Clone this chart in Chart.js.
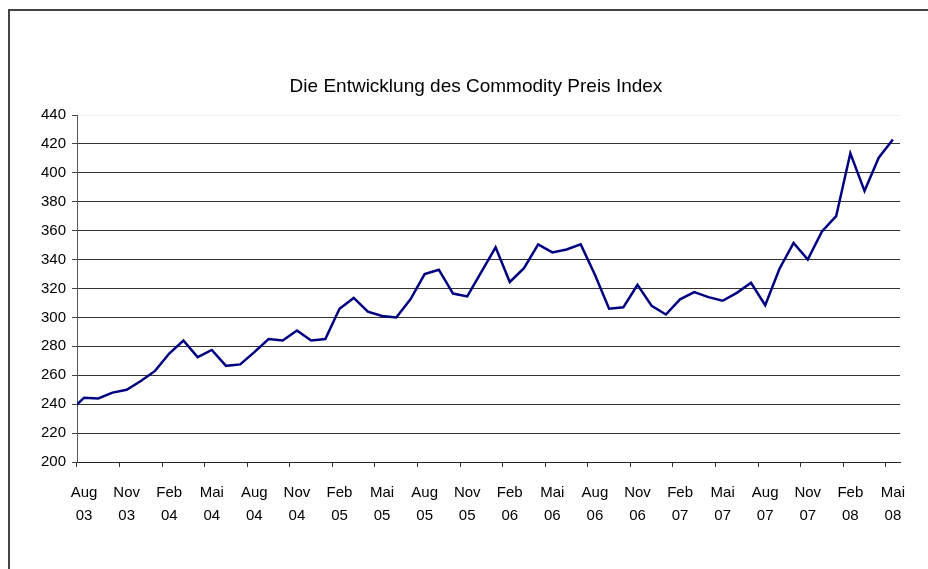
<!DOCTYPE html>
<html>
<head>
<meta charset="utf-8">
<script src="https://cdn.jsdelivr.net/npm/chart.js@4.4.1/dist/chart.umd.min.js"></script>
<style>
  html, body { margin: 0; padding: 0; background: #fff; }
  #wrap { position: relative; width: 928px; height: 569px; overflow: hidden; }
  #frame { position: absolute; left: 8px; top: 9px; width: 940px; height: 580px;
           border: 2px solid #444; pointer-events: none; }
  #title { position: absolute; left: 0; top: 75px; width: 952px; text-align: center;
           font: 19px/22px "Liberation Sans", Arial, sans-serif; color: #000; }
</style>
</head>
<body>
<div id="wrap">
  <canvas id="myChart" width="928" height="569"></canvas>
  <div id="title"></div>
  <div id="frame"></div>
</div>
<script>
// months, first one (Jul 03) lies just left of the plot and is clipped like in Excel
const months = [
  'Jul 03', 'Aug 03', 'Sep 03', 'Okt 03', 'Nov 03', 'Dez 03',
  'Jan 04', 'Feb 04', 'Mär 04', 'Apr 04', 'Mai 04', 'Jun 04', 'Jul 04', 'Aug 04', 'Sep 04', 'Okt 04', 'Nov 04', 'Dez 04',
  'Jan 05', 'Feb 05', 'Mär 05', 'Apr 05', 'Mai 05', 'Jun 05', 'Jul 05', 'Aug 05', 'Sep 05', 'Okt 05', 'Nov 05', 'Dez 05',
  'Jan 06', 'Feb 06', 'Mär 06', 'Apr 06', 'Mai 06', 'Jun 06', 'Jul 06', 'Aug 06', 'Sep 06', 'Okt 06', 'Nov 06', 'Dez 06',
  'Jan 07', 'Feb 07', 'Mär 07', 'Apr 07', 'Mai 07', 'Jun 07', 'Jul 07', 'Aug 07', 'Sep 07', 'Okt 07', 'Nov 07', 'Dez 07',
  'Jan 08', 'Feb 08', 'Mär 08', 'Apr 08', 'Mai 08'
];

const indexValues = [
  235, 244.5, 244, 248, 250, 256,
  263, 275, 284, 272.5, 277.5, 266.5, 267.5, 276, 285, 284, 291, 284,
  285, 306, 313.5, 304, 301, 300, 312.5, 330, 333, 316.5, 314.5, 331.5,
  348.5, 324.5, 334, 350.5, 345, 347, 350.5, 329.5, 306, 307, 322.5, 308,
  302, 312.5, 317.5, 314, 311.5, 317, 324, 308.5, 333.5, 351.5, 340, 359.5,
  370, 413.5, 387.5, 410.5, 423
];

const yMin = 200;
const yMax = 440;
const yStep = 20;

const chartTitle = 'Die Entwicklung des Commodity Preis Index';
const fontFamily = '"Liberation Sans", Arial, sans-serif';

document.getElementById('title').textContent = chartTitle;

var ctx = document.getElementById('myChart').getContext('2d');
var chart = new Chart(ctx, {
    type: 'line',
    data: {
        labels: months,
        datasets: [{
            data: indexValues,
            borderColor: '#000080',
            borderWidth: 2.5,
            pointRadius: 0,
            tension: 0,
            fill: false
        }]
    },
    options: {
        responsive: false,
        animation: false,
        layout: { padding: { left: 0, right: 28, top: 115, bottom: 0 } },
        plugins: {
            legend: { display: false },
            tooltip: { enabled: false },
            title: { display: false }
        },
        scales: {
            x: {
                type: 'category',
                min: 'Aug 03',
                offset: true,
                afterFit: function(scale) { scale.height = 107; },
                grid: {
                    offset: true,
                    drawOnChartArea: false,
                    drawTicks: true,
                    tickLength: 5,
                    tickColor: function(c) { return c.index % 3 === 0 ? '#333' : 'rgba(0,0,0,0)'; }
                },
                border: { color: '#222', width: 1 },
                ticks: {
                    autoSkip: false,
                    maxRotation: 0,
                    minRotation: 0,
                    padding: 15,
                    color: '#000',
                    font: { family: fontFamily, size: 15, lineHeight: 1.5 },
                    callback: function(value, index) {
                        if (index % 3 !== 0) return '';
                        return this.getLabelForValue(value).split(' ');
                    }
                }
            },
            y: {
                min: yMin,
                max: yMax,
                afterFit: function(scale) { scale.width = 77; },
                grid: {
                    tickLength: 5,
                    color: function(c) { return c.tick && c.tick.value === yMax ? '#eeeeee' : '#333'; },
                    tickColor: '#444'
                },
                border: { color: '#555', width: 1 },
                ticks: {
                    stepSize: yStep,
                    padding: 6,
                    color: '#000',
                    font: { family: fontFamily, size: 15 }
                }
            }
        }
    }
});
</script>
</body>
</html>
